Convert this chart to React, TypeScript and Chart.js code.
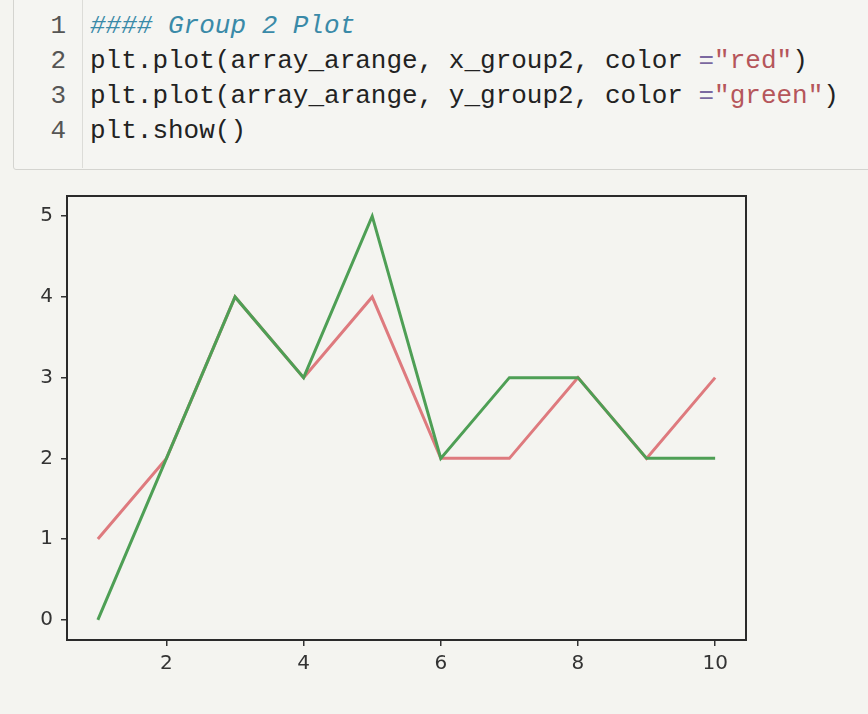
import React, { useEffect, useRef } from "react";
import { Chart, registerables } from "chart.js";

Chart.register(...registerables);

const xValues = [1, 2, 3, 4, 5, 6, 7, 8, 9, 10];
const redSeries = [1, 2, 4, 3, 4, 2, 2, 3, 2, 3];
const greenSeries = [0, 2, 4, 3, 5, 2, 3, 3, 2, 2];
const xTicks = [2, 4, 6, 8, 10];
const yTicks = [0, 1, 2, 3, 4, 5];

const codeLines: { n: string; parts: { t: string; c: string; i?: boolean }[] }[] = [
  { n: "1", parts: [{ t: "#### Group 2 Plot", c: "#3a8aa8", i: true }] },
  {
    n: "2",
    parts: [
      { t: "plt.plot(array_arange, x_group2, color ", c: "#222" },
      { t: "=", c: "#7a68a0" },
      { t: "\"red\"", c: "#b5565b" },
      { t: ")", c: "#222" },
    ],
  },
  {
    n: "3",
    parts: [
      { t: "plt.plot(array_arange, y_group2, color ", c: "#222" },
      { t: "=", c: "#7a68a0" },
      { t: "\"green\"", c: "#b5565b" },
      { t: ")", c: "#222" },
    ],
  },
  { n: "4", parts: [{ t: "plt.show()", c: "#222" }] },
];

const framePlugin = {
  id: "frame",
  afterDraw(chart: any) {
    const { ctx, chartArea } = chart;
    ctx.save();
    ctx.strokeStyle = "#2a2a2a";
    ctx.lineWidth = 2;
    ctx.strokeRect(chartArea.left, chartArea.top, chartArea.right - chartArea.left, chartArea.bottom - chartArea.top);
    ctx.restore();
  },
};

export default function App() {
  const canvasRef = useRef<HTMLCanvasElement | null>(null);

  useEffect(() => {
    const canvas = canvasRef.current;
    if (!canvas) return;
    const chart = new Chart(canvas, {
      type: "line",
      data: {
        datasets: [
          {
            label: "x_group2",
            data: xValues.map((x, i) => ({ x, y: redSeries[i] })),
            borderColor: "#de7a7e",
            borderWidth: 3,
            pointRadius: 0,
            tension: 0,
            fill: false,
            order: 2,
          },
          {
            label: "y_group2",
            data: xValues.map((x, i) => ({ x, y: greenSeries[i] })),
            borderColor: "#4e9f55",
            borderWidth: 3,
            pointRadius: 0,
            tension: 0,
            fill: false,
            order: 1,
          },
        ],
      },
      options: {
        animation: false,
        responsive: false,
        maintainAspectRatio: false,
        layout: { padding: { top: 16, right: 122, left: 0, bottom: 0 } },
        plugins: { legend: { display: false }, tooltip: { enabled: false } },
        scales: {
          x: {
            type: "linear",
            min: 0.55,
            max: 10.45,
            afterBuildTicks: (scale: any) => {
              scale.ticks = xTicks.map((v) => ({ value: v }));
            },
            afterFit: (scale: any) => {
              scale.height = 74;
            },
            grid: { display: true, drawOnChartArea: false, drawTicks: true, tickLength: 6, color: "#333", lineWidth: 1.5 },
            border: { display: false },
            ticks: {
              font: { family: "DejaVu Sans", size: 20 },
              color: "#333",
              padding: 6,
              maxRotation: 0,
              autoSkip: false,
            },
          },
          y: {
            type: "linear",
            min: -0.25,
            max: 5.25,
            afterBuildTicks: (scale: any) => {
              scale.ticks = yTicks.map((v) => ({ value: v }));
            },
            afterFit: (scale: any) => {
              scale.width = 67;
              scale.paddingTop = 0;
              scale.paddingBottom = 0;
            },
            grid: { display: true, drawOnChartArea: false, drawTicks: true, tickLength: 6, color: "#333", lineWidth: 1.5 },
            border: { display: false },
            ticks: {
              font: { family: "DejaVu Sans", size: 20 },
              color: "#333",
              padding: 8,
              autoSkip: false,
            },
          },
        },
      },
      plugins: [framePlugin],
    });
    return () => chart.destroy();
  }, []);

  return (
    <div
      style={{
        position: "absolute",
        left: 0,
        top: 0,
        width: 868,
        height: 714,
        background: "#f4f4f0",
        overflow: "hidden",
      }}
    >
      <div
        style={{
          position: "absolute",
          left: 13,
          top: -10,
          width: 880,
          height: 180,
          border: "1.5px solid #d4d4d0",
          borderRadius: 3,
          background: "#f5f5f2",
          boxSizing: "border-box",
        }}
      />
      <div
        style={{
          position: "absolute",
          left: 82,
          top: 0,
          width: 1,
          height: 168,
          background: "#dcdcd8",
        }}
      />
      {codeLines.map((line, idx) => (
        <div
          key={idx}
          style={{
            position: "absolute",
            top: 9 + idx * 35,
            left: 0,
            height: 35,
            lineHeight: "35px",
            fontFamily: "'Liberation Mono', monospace",
            fontSize: 26,
            whiteSpace: "pre",
          }}
        >
          <span
            style={{
              position: "absolute",
              left: 0,
              width: 66,
              textAlign: "right",
              color: "#555",
            }}
          >
            {line.n}
          </span>
          <span style={{ position: "absolute", left: 90 }}>
            {line.parts.map((p, j) => (
              <span key={j} style={{ color: p.c, fontStyle: p.i ? "italic" : "normal" }}>
                {p.t}
              </span>
            ))}
          </span>
        </div>
      ))}
      <canvas
        ref={canvasRef}
        width={868}
        height={534}
        style={{ position: "absolute", left: 0, top: 180, width: 868, height: 534 }}
      />
    </div>
  );
}
